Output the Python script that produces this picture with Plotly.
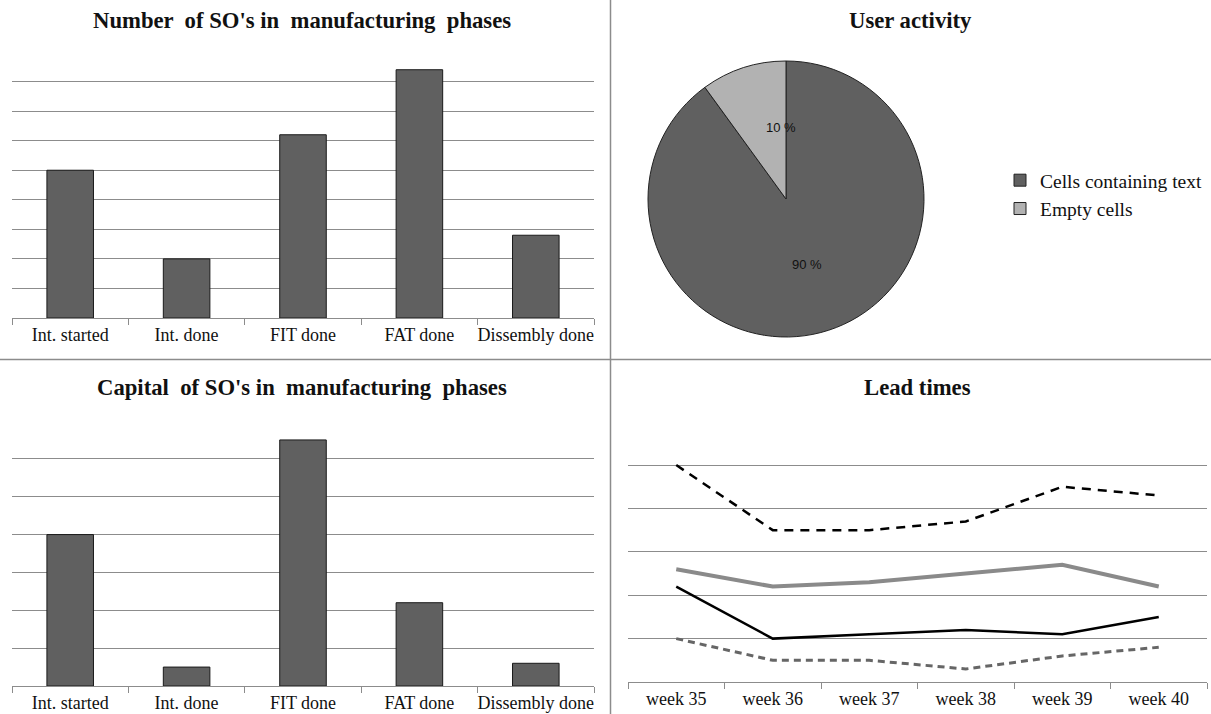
import math
import plotly.graph_objects as go

# ---- data ----
phases = ["Int. started", "Int. done", "FIT done", "FAT done", "Dissembly done"]
so_count = [5.0, 2.0, 6.2, 8.4, 2.8]
so_capital = [4.0, 0.5, 6.5, 2.2, 0.6]

pie_labels = ["Cells containing text", "Empty cells"]
pie_values = [90, 10]

weeks = ["week 35", "week 36", "week 37", "week 38", "week 39", "week 40"]
lead_black_dash = [5.0, 3.5, 3.5, 3.7, 4.5, 4.3]
lead_gray_solid = [2.6, 2.2, 2.3, 2.5, 2.7, 2.2]
lead_black_solid = [2.2, 1.0, 1.1, 1.2, 1.1, 1.5]
lead_gray_dash = [1.0, 0.5, 0.5, 0.3, 0.6, 0.8]

W, H = 1211, 714
def px(x):
    return x / W
def py(y):
    return 1 - y / H

SERIF = "Liberation Serif, Times New Roman, serif"
SANS = "Liberation Sans, Arial, sans-serif"
BAR = "#606060"
GRID = "#8c8c8c"

fig = go.Figure()

fig.add_trace(go.Bar(x=phases, y=so_count, marker=dict(color=BAR, line=dict(color="#1a1a1a", width=1)),
                     xaxis="x", yaxis="y", showlegend=False))
fig.add_trace(go.Bar(x=phases, y=so_capital, marker=dict(color=BAR, line=dict(color="#1a1a1a", width=1)),
                     xaxis="x2", yaxis="y2", showlegend=False))

PCX, PCY, PR = 786, 199, 138
fig.add_trace(go.Pie(labels=pie_labels, values=pie_values, sort=False, direction="clockwise", rotation=0,
                     marker=dict(colors=["#606060", "#b2b2b2"], line=dict(color="#222222", width=1)),
                     textinfo="none",
                     domain=dict(x=[px(PCX - PR), px(PCX + PR)], y=[py(PCY + PR), py(PCY - PR)]),
                     hoverinfo="label+percent"))

# slice labels placed at each slice's mid-angle (computed from the values)
total = sum(pie_values)
start = 0.0
for v in pie_values:
    frac = v / total
    mid = start + frac * 180.0  # degrees clockwise from 12 o'clock
    start += frac * 360.0
    if mid > 180:
        mid -= 360
    r = 0.5 * PR
    if frac < 0.2:
        mid = mid * 0.2
        r = 0.52 * PR
    lx = PCX + r * math.sin(math.radians(mid))
    ly = PCY - r * math.cos(math.radians(mid))
    fig.add_annotation(text="%d %%" % v, x=px(lx), y=py(ly), xref="paper", yref="paper",
                       xanchor="center", yanchor="middle",
                       showarrow=False, font=dict(family=SANS, size=13, color="#111111"))

fig.add_trace(go.Scatter(x=weeks, y=lead_black_dash, mode="lines", line=dict(color="#000000", width=2.5, dash="9px,7px"),
                         xaxis="x3", yaxis="y3", showlegend=False))
fig.add_trace(go.Scatter(x=weeks, y=lead_gray_solid, mode="lines", line=dict(color="#8a8a8a", width=4),
                         xaxis="x3", yaxis="y3", showlegend=False))
fig.add_trace(go.Scatter(x=weeks, y=lead_black_solid, mode="lines", line=dict(color="#000000", width=2.5),
                         xaxis="x3", yaxis="y3", showlegend=False))
fig.add_trace(go.Scatter(x=weeks, y=lead_gray_dash, mode="lines", line=dict(color="#666666", width=3, dash="7px,5px"),
                         xaxis="x3", yaxis="y3", showlegend=False))

xcommon = dict(type="category", showgrid=False, showline=True, linecolor=GRID, linewidth=1,
               ticks="outside", tickson="boundaries", ticklen=6, tickcolor=GRID, tickangle=0,
               automargin=False,
               tickfont=dict(family=SERIF, size=18, color="#111111"), fixedrange=True)
ycommon = dict(showgrid=True, gridcolor=GRID, gridwidth=1, showticklabels=False, zeroline=False,
               showline=False, ticks="", dtick=1, fixedrange=True, automargin=False)

fig.update_layout(
    width=W, height=H, autosize=False, margin=dict(l=0, r=0, t=0, b=0, autoexpand=False),
    paper_bgcolor="white", plot_bgcolor="white",
    bargap=0.6,
    xaxis=dict(xcommon, domain=[px(12), px(594)], anchor="y"),
    yaxis=dict(ycommon, domain=[py(318), py(52)], range=[0, 9], anchor="x"),
    xaxis2=dict(xcommon, domain=[px(12), px(594)], anchor="y2"),
    yaxis2=dict(ycommon, domain=[py(686), py(421)], range=[0, 7], anchor="x2"),
    xaxis3=dict(xcommon, domain=[px(628), px(1207)], range=[-0.5, len(weeks) - 0.5], anchor="y3"),
    yaxis3=dict(ycommon, domain=[py(682), py(421.7)], range=[0, 6], anchor="x3"),
    legend=dict(x=px(1000), y=py(161), xanchor="left", yanchor="top",
                font=dict(family=SERIF, size=19.5, color="#111111"), bgcolor="rgba(0,0,0,0)",
                itemclick=False, itemdoubleclick=False),
    showlegend=True,
)

titles = [
    ("Number  of SO's in  manufacturing  phases", 302, 20),
    ("User activity", 910, 20),
    ("Capital  of SO's in  manufacturing  phases", 302, 387),
    ("Lead times", 917, 387),
]
for t, x, y in titles:
    fig.add_annotation(text="<b>%s</b>" % t, x=px(x), y=py(y), xref="paper", yref="paper",
                       xanchor="center", yanchor="middle", showarrow=False,
                       font=dict(family=SERIF, size=22.7, color="#111111"))

# quadrant dividers
fig.add_shape(type="line", xref="paper", yref="paper", x0=px(610.5), x1=px(610.5), y0=0, y1=1,
              line=dict(color="#8c8c8c", width=1.5))
fig.add_shape(type="line", xref="paper", yref="paper", x0=0, x1=1, y0=py(359.5), y1=py(359.5),
              line=dict(color="#8c8c8c", width=1.5))

fig.write_html("out.html", config={"displayModeBar": False, "responsive": False},
               post_script="document.body.style.margin='0';document.body.style.overflow='hidden';")
